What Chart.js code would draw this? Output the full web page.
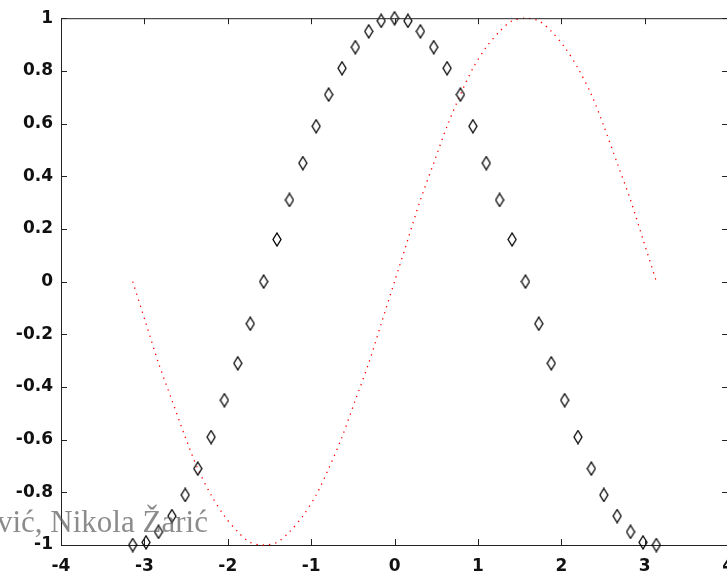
<!DOCTYPE html>
<html lang="en">
<head>
    <meta charset="UTF-8">
    <title>sin / cos</title>
    <style>
        body {
            margin: 0;
            padding: 0;
            background: #ffffff;
            overflow: hidden;
        }

        .plot-box {
            position: relative;
            width: 745px;
            height: 572px;
        }
    </style>
    <script src="https://cdn.jsdelivr.net/npm/chart.js"></script>
</head>
<body>
    <div class="plot-box">
        <canvas id="trigChart"></canvas>
    </div>

    <script>
        // samples from -pi to pi, step pi/20
        const xValues = [-3.14, -2.98, -2.83, -2.67, -2.51, -2.36, -2.2, -2.04, -1.88, -1.73, -1.57,
            -1.41, -1.26, -1.1, -0.94, -0.79, -0.63, -0.47, -0.31, -0.16, 0,
            0.16, 0.31, 0.47, 0.63, 0.79, 0.94, 1.1, 1.26, 1.41, 1.57,
            1.73, 1.88, 2.04, 2.2, 2.36, 2.51, 2.67, 2.83, 2.98, 3.14];

        const cosValues = [-1, -0.99, -0.95, -0.89, -0.81, -0.71, -0.59, -0.45, -0.31, -0.16, 0,
            0.16, 0.31, 0.45, 0.59, 0.71, 0.81, 0.89, 0.95, 0.99, 1,
            0.99, 0.95, 0.89, 0.81, 0.71, 0.59, 0.45, 0.31, 0.16, 0,
            -0.16, -0.31, -0.45, -0.59, -0.71, -0.81, -0.89, -0.95, -0.99, -1];

        const sinValues = [0, -0.16, -0.31, -0.45, -0.59, -0.71, -0.81, -0.89, -0.95, -0.99, -1,
            -0.99, -0.95, -0.89, -0.81, -0.71, -0.59, -0.45, -0.31, -0.16, 0,
            0.16, 0.31, 0.45, 0.59, 0.71, 0.81, 0.89, 0.95, 0.99, 1,
            0.99, 0.95, 0.89, 0.81, 0.71, 0.59, 0.45, 0.31, 0.16, 0];

        const xTicks = [-4, -3, -2, -1, 0, 1, 2, 3, 4];
        const yTicks = [-1, -0.8, -0.6, -0.4, -0.2, 0, 0.2, 0.4, 0.6, 0.8, 1];

        const creditText = 'vić, Nikola Žarić';

        const toPoints = (ys) => xValues.map((x, i) => ({ x: x, y: ys[i] }));

        // tall open diamond marker
        function diamondMarker() {
            const c = document.createElement('canvas');
            c.width = 10;
            c.height = 15;
            const g = c.getContext('2d');
            g.strokeStyle = '#000';
            g.lineWidth = 1.3;
            g.beginPath();
            g.moveTo(5, 1);
            g.lineTo(9, 7.5);
            g.lineTo(5, 14);
            g.lineTo(1, 7.5);
            g.closePath();
            g.stroke();
            return c;
        }

        // box around the axes, inward tick marks, credit line
        const framePlugin = {
            id: 'frame',
            afterDraw(chart) {
                const ctx = chart.ctx;
                const a = chart.chartArea;
                const xs = chart.scales.x;
                const ys = chart.scales.y;
                const len = 6;
                ctx.save();
                ctx.strokeStyle = '#222';
                ctx.lineWidth = 1;
                ctx.beginPath();
                ctx.moveTo(a.left, a.top + 0.5);
                ctx.lineTo(a.right, a.top + 0.5);
                ctx.moveTo(a.right - 0.5, a.top);
                ctx.lineTo(a.right - 0.5, a.bottom);
                xTicks.forEach(v => {
                    const px = Math.round(xs.getPixelForValue(v)) + 0.5;
                    ctx.moveTo(px, a.bottom);
                    ctx.lineTo(px, a.bottom - len);
                    ctx.moveTo(px, a.top);
                    ctx.lineTo(px, a.top + len);
                });
                yTicks.forEach(v => {
                    const py = Math.round(ys.getPixelForValue(v)) + 0.5;
                    ctx.moveTo(a.left, py);
                    ctx.lineTo(a.left + len, py);
                    ctx.moveTo(a.right, py);
                    ctx.lineTo(a.right - len, py);
                });
                ctx.stroke();

                ctx.font = '31px "Liberation Serif", "Times New Roman", serif';
                ctx.fillStyle = 'rgba(90, 90, 90, 0.7)';
                ctx.textBaseline = 'alphabetic';
                ctx.fillText(creditText, -3, 532);
                ctx.restore();
            }
        };

        const tickFont = { family: '"DejaVu Sans", sans-serif', size: 17, weight: 'bold' };

        new Chart(document.getElementById('trigChart'), {
            type: 'scatter',
            data: {
                datasets: [{
                    label: 'cos',
                    data: toPoints(cosValues),
                    showLine: false,
                    pointStyle: diamondMarker(),
                    pointRadius: 5,
                    pointHoverRadius: 5,
                    clip: false
                }, {
                    label: 'sin',
                    data: toPoints(sinValues),
                    showLine: true,
                    borderColor: '#ff0000',
                    borderWidth: 1.3,
                    borderDash: [1.3, 5],
                    pointRadius: 0,
                    pointHoverRadius: 0,
                    tension: 0.3,
                    clip: false
                }]
            },
            options: {
                responsive: true,
                maintainAspectRatio: false,
                animation: false,
                events: [],
                layout: {
                    padding: { top: 16, right: 16, left: 0, bottom: 0 }
                },
                plugins: {
                    legend: { display: false },
                    tooltip: { enabled: false }
                },
                scales: {
                    x: {
                        type: 'linear',
                        min: -4,
                        max: 4,
                        afterBuildTicks: (s) => { s.ticks = xTicks.map(v => ({ value: v })); },
                        afterFit: (s) => { s.height = 27; },
                        grid: { display: false, drawTicks: false },
                        border: { display: true, color: '#222', width: 1 },
                        ticks: {
                            font: tickFont,
                            color: '#111',
                            padding: 11,
                            maxRotation: 0,
                            callback: (v) => String(v)
                        }
                    },
                    y: {
                        min: -1,
                        max: 1,
                        afterBuildTicks: (s) => { s.ticks = yTicks.map(v => ({ value: v })); },
                        afterFit: (s) => { s.width = 61; },
                        grid: { display: false, drawTicks: false },
                        border: { display: true, color: '#222', width: 1 },
                        ticks: {
                            font: tickFont,
                            color: '#111',
                            padding: 8,
                            callback: (v) => String(v)
                        }
                    }
                }
            },
            plugins: [framePlugin]
        });
    </script>
</body>
</html>
